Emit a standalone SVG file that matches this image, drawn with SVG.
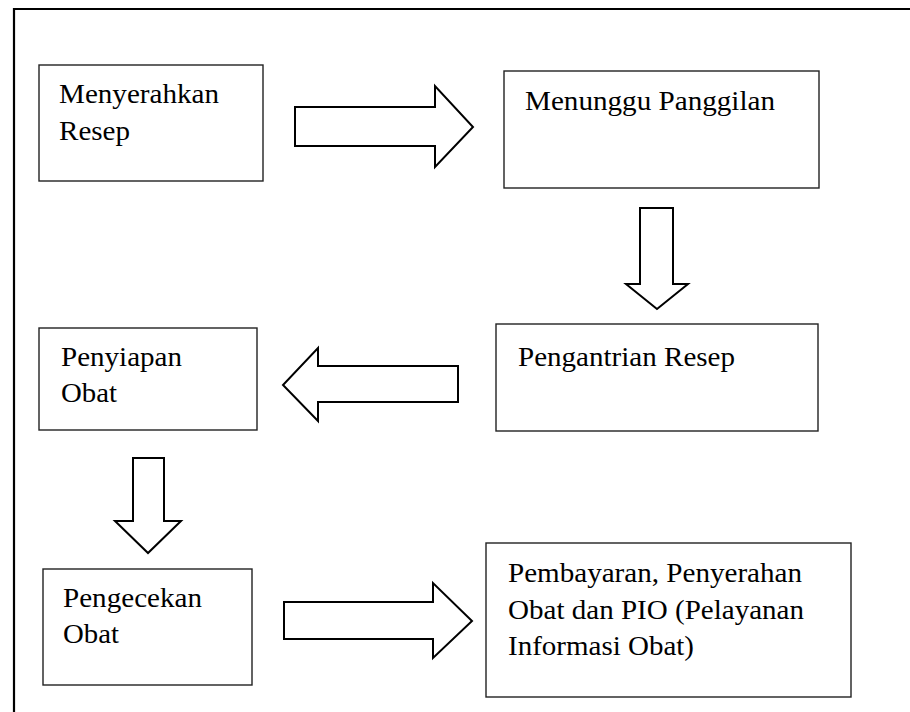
<svg xmlns="http://www.w3.org/2000/svg" width="910" height="712" viewBox="0 0 910 712">
<style>
.frame{fill:none;stroke:#000;stroke-width:2.2}
.box{fill:#fff;stroke:#222;stroke-width:1.4}
.arr{fill:#fff;stroke:#000;stroke-width:2;stroke-linejoin:miter}
text{font-family:'Liberation Serif','Times New Roman',Times,'DejaVu Serif',serif;font-size:28px;fill:#000}
</style>
<rect width="910" height="712" fill="#fff"/>
<polyline class="frame" points="14,712 14,9 910,9"/>
<g id="connectors">
<polygon id="a1" class="arr" points="295,107 435,107 435,86 473,127 435,167 435,146 295,146"/>
<polygon id="a2" class="arr" points="640,208 673,208 673,284 688,284 657,309 626,284 640,284"/>
<polygon id="a3" class="arr" points="458,366 318,366 318,348 283,385 318,421 318,402 458,402"/>
<polygon id="a4" class="arr" points="133,458 164,458 164,521 181,521 148,553 115,521 133,521"/>
<polygon id="a5" class="arr" points="284,602 433,602 433,583 472,621 433,658 433,639 284,639"/>
</g>
<g id="n1">
<rect class="box" x="39" y="65" width="224" height="116"/>
<text x="59" y="103" textLength="160" lengthAdjust="spacingAndGlyphs">Menyerahkan</text>
<text x="59" y="140" textLength="71" lengthAdjust="spacingAndGlyphs">Resep</text>
</g>
<g id="n2">
<rect class="box" x="504" y="71" width="315" height="117"/>
<text x="525" y="110" textLength="250" lengthAdjust="spacingAndGlyphs">Menunggu Panggilan</text>
</g>
<g id="n3">
<rect class="box" x="496" y="324" width="322" height="107"/>
<text x="518" y="366" textLength="217" lengthAdjust="spacingAndGlyphs">Pengantrian Resep</text>
</g>
<g id="n4">
<rect class="box" x="39" y="328" width="218" height="102"/>
<text x="61" y="366" textLength="121" lengthAdjust="spacingAndGlyphs">Penyiapan</text>
<text x="61" y="402" textLength="56" lengthAdjust="spacingAndGlyphs">Obat</text>
</g>
<g id="n5">
<rect class="box" x="43" y="569" width="209" height="116"/>
<text x="63" y="607" textLength="139" lengthAdjust="spacingAndGlyphs">Pengecekan</text>
<text x="63" y="643" textLength="56" lengthAdjust="spacingAndGlyphs">Obat</text>
</g>
<g id="n6">
<rect class="box" x="486" y="543" width="365" height="154"/>
<text x="508" y="582" textLength="294" lengthAdjust="spacingAndGlyphs">Pembayaran, Penyerahan</text>
<text x="508" y="619" textLength="296" lengthAdjust="spacingAndGlyphs">Obat dan PIO (Pelayanan</text>
<text x="508" y="655" textLength="186" lengthAdjust="spacingAndGlyphs">Informasi Obat)</text>
</g>
</svg>
